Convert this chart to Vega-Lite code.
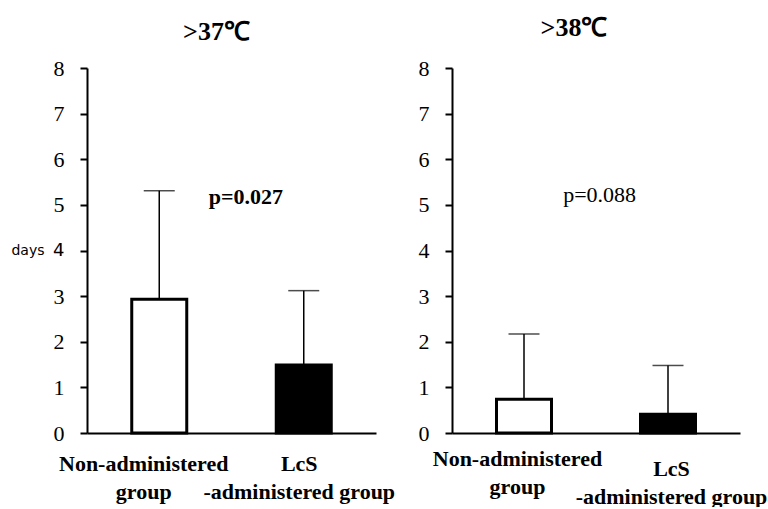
{
  "$schema": "https://vega.github.io/schema/vega-lite/v6.json",
  "background": "white",
  "padding": {"left": 10, "top": 15, "right": 0, "bottom": 0},
  "bounds": "flush",
  "spacing": 76,
  "config": {
    "font": "Liberation Serif",
    "view": {"stroke": null}
  },
  "datasets": {
    "bars": [
      {"panel": "A", "group": "Non-administered group", "pos": 1, "mean": 2.93, "upper": 5.31},
      {"panel": "A", "group": "LcS-administered group", "pos": 3, "mean": 1.49, "upper": 3.12},
      {"panel": "B", "group": "Non-administered group", "pos": 1, "mean": 0.74, "upper": 2.17},
      {"panel": "B", "group": "LcS-administered group", "pos": 3, "mean": 0.41, "upper": 1.48}
    ],
    "pvals": [
      {"panel": "A", "label": "p=0.027", "pos": 2.2, "y": 5.17},
      {"panel": "B", "label": "p=0.088", "pos": 2.05, "y": 5.21}
    ]
  },
  "hconcat": [
    {
      "width": 289,
      "height": 365,
      "title": {"text": ">37℃", "font": "Liberation Serif", "fontSize": 26, "fontWeight": "bold", "color": "black", "dx": -15, "offset": 12},
      "layer": [
        {
          "data": {"name": "bars"},
          "transform": [{"filter": "datum.panel == 'A'"}],
          "mark": {"type": "rule", "color": "black", "strokeWidth": 1.5},
          "encoding": {
            "x": {"field": "pos", "type": "quantitative"},
            "y": {"field": "mean", "type": "quantitative"},
            "y2": {"field": "upper"}
          }
        },
        {
          "data": {"name": "bars"},
          "transform": [{"filter": "datum.panel == 'A'"}],
          "mark": {"type": "tick", "orient": "horizontal", "color": "black", "size": 31, "thickness": 1.5},
          "encoding": {
            "x": {"field": "pos", "type": "quantitative"},
            "y": {"field": "upper", "type": "quantitative"}
          }
        },
        {
          "data": {"name": "bars"},
          "transform": [{"filter": "datum.panel == 'A'"}],
          "mark": {"type": "bar", "size": 55, "stroke": "black", "strokeWidth": 3},
          "encoding": {
            "x": {
              "field": "pos", "type": "quantitative",
              "scale": {"domain": [0, 4], "padding": 0, "nice": false, "zero": false},
              "axis": {
                "values": [1, 3], "title": null, "grid": false, "ticks": false,
                "domainColor": "black", "domainWidth": 2,
                "labelExpr": "datum.value == 1 ? ['Non-administered', 'group'] : ['LcS', '-administered group']",
                "labelFont": "Liberation Serif", "labelFontSize": 22, "labelFontWeight": "bold", "labelColor": "black",
                "labelLineHeight": 28, "labelPadding": 20, "labelAngle": 0, "labelBaseline": "top", "labelAlign": "center",
                "labelOffset": {"condition": {"test": "datum.value == 1", "value": -16}, "value": -5},
                "labelLimit": 1000, "labelFlush": false, "labelOverlap": false
              }
            },
            "y": {
              "field": "mean", "type": "quantitative",
              "scale": {"domain": [0, 8], "nice": false},
              "axis": {
                "values": [0, 1, 2, 3, 4, 5, 6, 7, 8], "grid": false,
                "domainColor": "black", "domainWidth": 2,
                "tickColor": "black", "tickWidth": 2, "tickSize": 7,
                "labelFont": {"condition": {"test": "datum.value == 4", "value": "DejaVu Sans"}, "value": "Liberation Serif"},
                "labelFontSize": {"condition": {"test": "datum.value == 4", "value": 18}, "value": 22},
                "labelColor": "black", "labelPadding": 16,
                "title": "days", "titleFont": "DejaVu Sans", "titleFontSize": 14, "titleFontWeight": "normal",
                "titleColor": "black", "titleAngle": 0, "titleAlign": "right", "titleBaseline": "middle",
                "titleX": -43, "titleY": 182.5
              }
            },
            "fill": {
              "field": "group", "type": "nominal",
              "scale": {"domain": ["Non-administered group", "LcS-administered group"], "range": ["white", "black"]},
              "legend": null
            }
          }
        },
        {
          "data": {"name": "pvals"},
          "transform": [{"filter": "datum.panel == 'A'"}],
          "mark": {"type": "text", "font": "Liberation Serif", "fontSize": 22, "fontWeight": "bold", "color": "black", "align": "center", "baseline": "middle"},
          "encoding": {
            "x": {"field": "pos", "type": "quantitative"},
            "y": {"field": "y", "type": "quantitative"},
            "text": {"field": "label"}
          }
        }
      ]
    },
    {
      "width": 288,
      "height": 365,
      "title": {"text": ">38℃", "font": "Liberation Serif", "fontSize": 26, "fontWeight": "bold", "color": "black", "dx": -22, "offset": 16},
      "layer": [
        {
          "data": {"name": "bars"},
          "transform": [{"filter": "datum.panel == 'B'"}],
          "mark": {"type": "rule", "color": "black", "strokeWidth": 1.5},
          "encoding": {
            "x": {"field": "pos", "type": "quantitative"},
            "y": {"field": "mean", "type": "quantitative"},
            "y2": {"field": "upper"}
          }
        },
        {
          "data": {"name": "bars"},
          "transform": [{"filter": "datum.panel == 'B'"}],
          "mark": {"type": "tick", "orient": "horizontal", "color": "black", "size": 31, "thickness": 1.5},
          "encoding": {
            "x": {"field": "pos", "type": "quantitative"},
            "y": {"field": "upper", "type": "quantitative"}
          }
        },
        {
          "data": {"name": "bars"},
          "transform": [{"filter": "datum.panel == 'B'"}],
          "mark": {"type": "bar", "size": 55, "stroke": "black", "strokeWidth": 3},
          "encoding": {
            "x": {
              "field": "pos", "type": "quantitative",
              "scale": {"domain": [0, 4], "padding": 0, "nice": false, "zero": false},
              "axis": {
                "values": [1, 3], "title": null, "grid": false, "ticks": false,
                "domainColor": "black", "domainWidth": 2,
                "labelExpr": "datum.value == 1 ? ['Non-administered', 'group'] : ['LcS', '-administered group']",
                "labelFont": "Liberation Serif", "labelFontSize": 22, "labelFontWeight": "bold", "labelColor": "black",
                "labelLineHeight": 28, "labelPadding": {"condition": {"test": "datum.value == 3", "value": 25}, "value": 15},
                "labelOffset": {"condition": {"test": "datum.value == 1", "value": -7}, "value": 3},
                "labelAngle": 0, "labelBaseline": "top", "labelAlign": "center",
                "labelLimit": 1000, "labelFlush": false, "labelOverlap": false
              }
            },
            "y": {
              "field": "mean", "type": "quantitative",
              "scale": {"domain": [0, 8], "nice": false},
              "axis": {
                "values": [0, 1, 2, 3, 4, 5, 6, 7, 8], "grid": false,
                "domainColor": "black", "domainWidth": 2,
                "tickColor": "black", "tickWidth": 2, "tickSize": 7,
                "labelFont": "Liberation Serif", "labelFontSize": 22, "labelColor": "black", "labelPadding": 16,
                "title": null
              }
            },
            "fill": {
              "field": "group", "type": "nominal",
              "scale": {"domain": ["Non-administered group", "LcS-administered group"], "range": ["white", "black"]},
              "legend": null
            }
          }
        },
        {
          "data": {"name": "pvals"},
          "transform": [{"filter": "datum.panel == 'B'"}],
          "mark": {"type": "text", "font": "Liberation Serif", "fontSize": 22, "color": "black", "align": "center", "baseline": "middle"},
          "encoding": {
            "x": {"field": "pos", "type": "quantitative"},
            "y": {"field": "y", "type": "quantitative"},
            "text": {"field": "label"}
          }
        }
      ]
    }
  ]
}
